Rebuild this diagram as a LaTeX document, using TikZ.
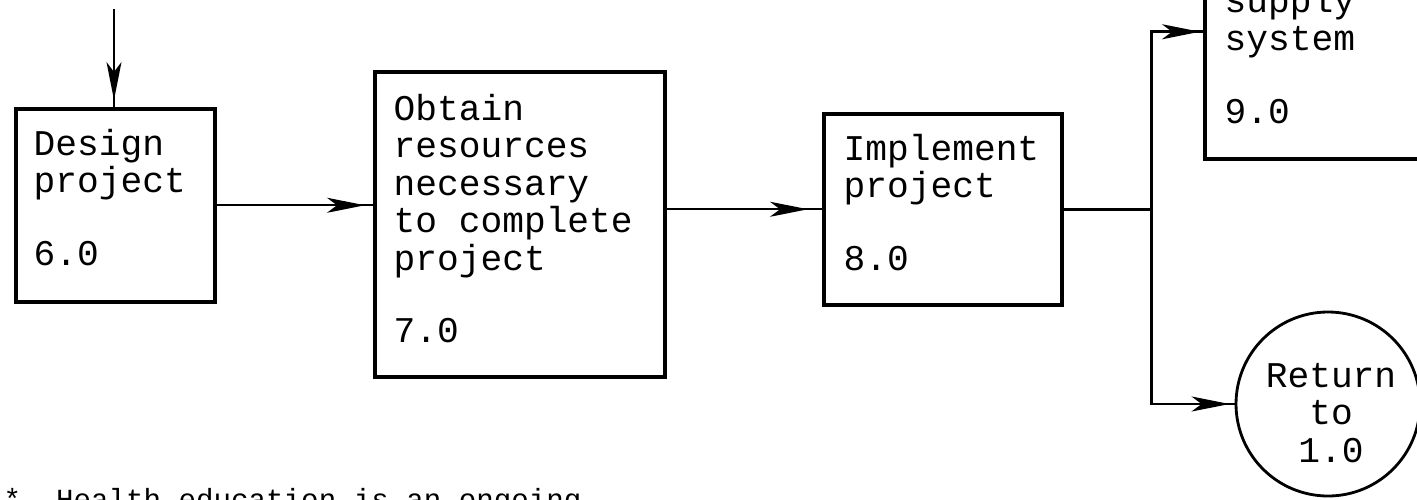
\documentclass[tikz,border=0pt]{standalone}
\usepackage{fontspec}
\newfontfamily\typewriter{Liberation Mono}
\usetikzlibrary{arrows.meta, decorations.markings, calc}

\begin{document}
\begin{tikzpicture}[
    x=0.1mm, y=-0.1mm,
    blk/.style={draw, line width=1pt, inner sep=0pt, anchor=north west},
    lbl/.style={font=\typewriter\fontsize{10.3}{10.67}\selectfont,
        inner sep=0pt, text width=30mm, align=flush left, anchor=base west},
    flow/.style={line width=0.6pt, postaction={decorate},
        decoration={markings, mark=at position -#1 with
            {\arrow{Stealth[length=3.8mm, width=1.5mm, inset=1mm]}}}},
    flow/.default=0.8mm
]
\useasboundingbox (0,0) rectangle (1417,499);
\clip (0,0) rectangle (1417,499);

% Process boxes
\node[blk, minimum width=19.9mm, minimum height=19.3mm] (b6) at (14,107) {};
\node[blk, minimum width=29mm, minimum height=30.5mm] (b7) at (373,70) {};
\node[blk, minimum width=23.8mm, minimum height=19.1mm] (b8) at (822,112) {};
\node[blk, minimum width=26mm, minimum height=25.4mm] (b9) at (1203,-97) {};
\node[draw, circle, line width=0.8pt, minimum size=18.4mm, inner sep=0pt] (ret) at (1328,404) {};

% Box texts
\node[lbl] (t6) at (33,155) {Design\\project\\[10pt]6.0};
\node[lbl] (t7) at (393,120) {Obtain\\resources\\necessary\\to complete\\project\\[10pt]7.0};
\node[lbl] (t8) at (843,160) {Implement\\project\\[10pt]8.0};
\node[lbl] (t9) at (1224,13) {supply\\system\\[10pt]9.0};
\node[lbl, text width=16mm, align=flush center, anchor=base] (tr) at (1331,387) {Return\\to\\1.0};

% Footnote
\node[font=\typewriter\fontsize{8.3}{10}\selectfont, inner sep=0pt, anchor=base west]
    (note) at (3,509) {*\ \ Health education is an ongoing};

% Flow lines
\coordinate (in6) at (114,9);
\draw[flow=0.7mm] (in6) -- (in6 |- b6.north);
\draw[flow] (b6.east) -- (b6.east -| b7.west);
\draw[flow=1.4mm] (b8.west -| b7.east) -- (b8.west);

% Branch after implementation
\coordinate (fork) at ($(b8.east)+(88,0)$);
\draw[line width=0.8pt] (b8.east) -- (fork);
\draw[flow=0.3mm, line width=0.8pt] (fork) |- (b9.west);
\draw[flow=0.5mm, line width=0.8pt] (fork) |- (ret.west);
\end{tikzpicture}
\end{document}
